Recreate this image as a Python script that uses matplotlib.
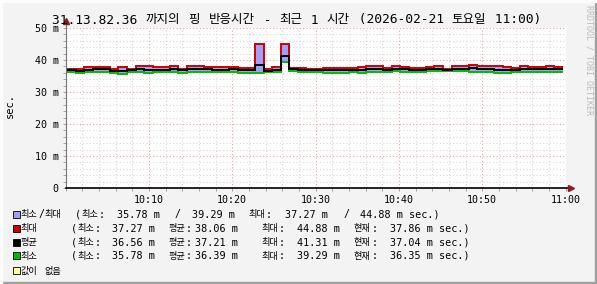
import numpy as np
import matplotlib
matplotlib.use('Agg')
import matplotlib.pyplot as plt
from matplotlib.patches import Rectangle

# ping samples, one per step (ms)
rtt_max = [37.3, 37.3, 37.7, 37.7, 37.7, 37.3, 37.7, 37.3, 38.0, 38.0,
           37.7, 37.7, 38.0, 37.3, 38.0, 38.0, 37.7, 37.7, 37.9, 37.9,
           37.5, 37.5, 44.88, 37.27, 37.7, 44.88, 37.6, 37.4, 37.3, 37.3,
           37.4, 37.4, 37.4, 37.6, 37.8, 38.1, 38.1, 37.4, 38.0, 37.7,
           37.4, 37.4, 37.7, 38.0, 37.3, 38.0, 38.0, 38.3, 38.0, 38.0,
           38.0, 37.7, 37.4, 38.0, 37.7, 37.7, 38.0, 37.86]
rtt_avg = [36.9, 36.7, 36.9, 37.1, 37.1, 36.7, 36.6, 37.0, 37.2, 37.0,
           36.9, 37.0, 37.2, 36.8, 37.2, 37.3, 37.1, 37.0, 37.0, 37.1,
           36.9, 36.9, 38.4, 36.56, 36.9, 41.31, 37.3, 37.0, 37.0, 36.9,
           36.8, 36.8, 36.8, 37.0, 36.9, 37.3, 37.3, 37.0, 37.3, 37.1,
           36.9, 36.9, 37.2, 37.3, 37.0, 37.3, 37.3, 37.4, 37.2, 37.2,
           36.8, 36.9, 36.8, 37.2, 37.1, 37.1, 37.3, 37.04]
rtt_min = [36.1, 35.8, 36.3, 36.3, 36.4, 35.8, 35.78, 36.1, 36.1, 35.8,
           36.1, 36.1, 36.1, 35.8, 36.1, 36.3, 36.3, 36.1, 36.1, 36.1,
           35.9, 35.9, 36.0, 36.1, 36.1, 39.29, 36.6, 36.2, 36.2, 36.2,
           35.8, 35.8, 35.8, 36.3, 35.8, 36.3, 36.3, 36.3, 36.6, 36.1,
           36.1, 36.1, 36.6, 36.6, 36.6, 36.6, 36.6, 36.3, 36.1, 36.1,
           35.8, 35.8, 36.3, 36.3, 36.3, 36.3, 36.3, 36.35]

start_s = 12      # first sample, seconds after 10:00
step_s = 61.5

xtick_labels = ['10:10', '10:20', '10:30', '10:40', '10:50', '11:00']
ytick_labels = ['0', '10 m', '20 m', '30 m', '40 m', '50 m']

title = '31.13.82.36 까지의 핑 반응시간 - 최근 1 시간 (2026-02-21 토요일 11:00)'

legend_names = ['최소/최대', '최대', '평균', '최소', '값이 없음']
legend_colors = ['#A0A0F8', '#CC0000', '#000000', '#00BB00', '#FFFFA0']
stat_rows = [
    ['37.27 m', '38.06 m', '44.88 m', '37.86 m sec.)'],
    ['36.56 m', '37.21 m', '41.31 m', '37.04 m sec.)'],
    ['35.78 m', '36.39 m', '39.29 m', '36.35 m sec.)'],
]
range_row = ['35.78 m', '/', '39.29 m', '37.27 m', '/', '44.88 m sec.)']

MONO = 'DejaVu Sans Mono'
KR = 'Noto Sans CJK KR'
W, H = 597, 284

fig = plt.figure(figsize=(W / 100, H / 100), dpi=100, facecolor='#F3F3F3')
renderer = fig.canvas.get_renderer()
ax = fig.add_axes([65.5 / W, 1 - 188 / H, 500 / W, 160 / H])
ax.set_facecolor('white')

edges = (start_s + step_s * np.arange(len(rtt_max) + 1)) / 60.0

ax.stairs(rtt_max, edges, baseline=rtt_min, fill=True, color='#A0A0F8', zorder=2)
ax.stairs(rtt_max, edges, baseline=None, color='#CC0000', lw=1.4, zorder=3)
ax.stairs(rtt_avg, edges, baseline=None, color='black', lw=1.4, zorder=4)
ax.stairs(rtt_min, edges, baseline=None, color='#00BB00', lw=1.4, zorder=3)

ax.set_xlim(0, 60)
ax.set_ylim(0, 50)
ax.set_xticks(np.arange(10, 61, 10))
ax.set_xticklabels(xtick_labels)
ax.set_xticks(np.arange(0, 61, 2), minor=True)
ax.set_yticks(np.arange(0, 51, 10))
ax.set_yticklabels(ytick_labels)
ax.set_yticks(np.arange(0, 51, 2), minor=True)
ax.grid(which='minor', color='#D8D8D8', lw=0.8, ls=(0, (1, 2)), zorder=0)
ax.grid(which='major', color='#F0A0A0', lw=0.8, ls=(0, (1, 2)), zorder=1)
ax.set_axisbelow(True)
for s in ax.spines.values():
    s.set_visible(False)
ax.tick_params(which='both', length=2, width=0.6, color='#999999', pad=3,
               labelsize=7.2)
for lab in ax.get_xticklabels() + ax.get_yticklabels():
    lab.set_family(MONO)

# axis lines with arrows
ax.plot([0, 0], [0, 52], color='#777777', lw=0.8, clip_on=False, zorder=5)
ax.plot([0, 60.6], [0, 0], color='black', lw=1.2, clip_on=False, zorder=5)
ax.plot([0], [52.2], marker='^', ms=4, color='#8B1A1A', clip_on=False, zorder=6)
ax.plot([60.7], [0], marker='>', ms=4, color='#8B1A1A', clip_on=False, zorder=6)


def is_kr(ch):
    return '\uac00' <= ch <= '\ud7a3'


def put(x, y, s, msize, ksize, gap=1.0):
    # draw mono / hangul runs one after another, x,y in pixels (baseline)
    runs = []
    for ch in s:
        k = is_kr(ch)
        if runs and runs[-1][1] == k:
            runs[-1][0] += ch
        else:
            runs.append([ch, k])
    for chunk, k in runs:
        if k:
            t = fig.text(x / W, 1 - y / H, chunk, family=KR, size=ksize,
                         va='baseline')
            x += t.get_window_extent(renderer).width + gap
        else:
            fig.text(x / W, 1 - y / H, chunk, family=MONO, size=msize,
                     va='baseline')
            x += len(chunk) * 0.602 * msize * 100 / 72


fig.text(10 / W, 1 - 105 / H, 'sec.', family=MONO, size=7.5, rotation=90,
         ha='center', va='center')
put(52, 23.5, title, 9.3, 9.0, gap=1.0)
fig.text(589 / W, 1 - 5 / H, 'RRDTOOL / TOBI OETIKER', family=MONO, size=6,
         rotation=270, ha='center', va='top', color='#BBBBBB')

# legend
LM, LK = 7.3, 6.6
row_y = [214, 228, 242, 255.5, 270]
for name, col, y in zip(legend_names, legend_colors, row_y):
    fig.patches.append(Rectangle((13 / W, 1 - (y + 3.5) / H), 7 / W, 7 / H,
                                 facecolor=col, edgecolor='black', lw=0.6,
                                 transform=fig.transFigure, figure=fig))
    put(20.5, y + 3.5, name, LM, LK)

y = row_y[0]
for x, s in zip([75, 248], ['(최소:', '최대:']):
    put(x, y + 3.5, s, LM, LK)
for x, s in zip([117, 175, 192, 285, 343, 360], range_row):
    put(x, y + 3.5, s, LM, LK)

for vals, y in zip(stat_rows, row_y[1:4]):
    for x, s in zip([71, 168, 261, 354], ['(최소:', '평균:', '최대:', '현재:']):
        put(x, y + 3.5, s, LM, LK)
    for x, s in zip([112, 195, 297, 390], vals):
        put(x, y + 3.5, s, LM, LK)

# 3d frame
fig.patches.append(Rectangle((0, 0), 1, 2 / H, color='#A0A0A0',
                             transform=fig.transFigure, figure=fig))
fig.patches.append(Rectangle((1 - 2 / W, 0), 2 / W, 1, color='#A0A0A0',
                             transform=fig.transFigure, figure=fig))
fig.patches.append(Rectangle((0, 1 - 2 / H), 1, 2 / H, color='#FCFCFC',
                             transform=fig.transFigure, figure=fig))
fig.patches.append(Rectangle((0, 0), 2 / W, 1, color='#FCFCFC',
                             transform=fig.transFigure, figure=fig))

fig.savefig('out.png', dpi=100, facecolor=fig.get_facecolor())
